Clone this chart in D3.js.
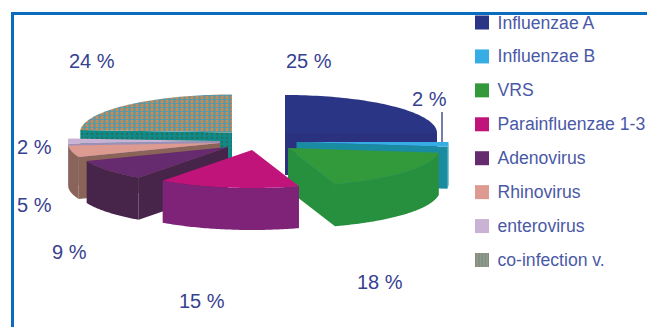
<!DOCTYPE html>
<html>
<head>
<meta charset="utf-8">
<script src="https://cdn.jsdelivr.net/npm/d3@7"></script>
<style>
  html, body { margin: 0; padding: 0; background: #fff; }
  svg { display: block; }
</style>
</head>
<body>
<script>
// Share of each virus among the positive samples, in percent.
const categories = ["Influenzae A", "Influenzae B", "VRS", "Parainfluenzae 1-3", "Adenovirus", "Rhinovirus", "enterovirus", "co-infection v."];
const shares = [25, 2, 18, 15, 9, 5, 2, 24];
const percentLabels = ["25 %", "2 %", "18 %", "15 %", "9 %", "5 %", "2 %", "24 %"];

// Colours for the visible kinds of face of each wedge.
const topColors = ["#2b3585", "#37ade6", "#339a3c", "#c0147a", "#662a6e", "#dc9a90", "#c9b2d3", "url(#coinfectionTop)"];
const wallColors = ["#2a3280", "#1a8ca2", "#26903e", "#7e2377", "#47244a", "#8a6459", "#9d8fb8", "url(#coinfectionFront)"];
const swatchColors = ["#2b3585", "#37ade6", "#339a3c", "#c0147a", "#662a6e", "#dc9a90", "#c9b2d3", "url(#coinfectionSwatch)"];

// Exploded pie: where each wedge's apex sits after being pulled out.
const apexX = [285, 296.5, 288, 252, 228, 220, 220, 232];
const apexY = [133, 142, 148, 150, 147, 143, 141, 132.5];
const radiusX = 152, radiusY = 38, depth = 42;

// Text anchor points for the percentage labels.
const labelX = [286, 412, 357, 179, 52, 17, 17, 69];
const labelY = [68, 106, 289, 308, 259, 212, 154, 68];

const width = 647, height = 327;
const svg = d3.select("body").append("svg").attr("width", width).attr("height", height);
const defs = svg.append("defs");

// Woven fills of the co-infection wedge: orange cells on blue, teal cells on the cut face.
const woven = defs.append("pattern").attr("id", "coinfectionTop")
  .attr("width", 5).attr("height", 4).attr("patternUnits", "userSpaceOnUse");
woven.append("rect").attr("width", 5).attr("height", 4).attr("fill", "#4a9bb4");
woven.append("rect").attr("x", 0.5).attr("width", 3).attr("height", 3.2).attr("fill", "#cc8a4e");
const wovenFront = defs.append("pattern").attr("id", "coinfectionFront")
  .attr("width", 5).attr("height", 4).attr("patternUnits", "userSpaceOnUse");
wovenFront.append("rect").attr("width", 5).attr("height", 4).attr("fill", "#0f8a88");
wovenFront.append("rect").attr("x", 1.2).attr("y", 1).attr("width", 1.8).attr("height", 1.8).attr("fill", "#2f6a50");
const wovenSwatch = defs.append("pattern").attr("id", "coinfectionSwatch")
  .attr("width", 3.2).attr("height", 4).attr("patternUnits", "userSpaceOnUse");
wovenSwatch.append("rect").attr("width", 3.2).attr("height", 4).attr("fill", "#82a098");
wovenSwatch.append("rect").attr("width", 1.4).attr("height", 4).attr("fill", "#8f8672");

// Pie angles run clockwise from twelve o'clock.
const wedges = d3.pie().sort(null)(shares);
const rim = (i, a) => [apexX[i] + radiusX * Math.sin(a), apexY[i] - radiusY * Math.cos(a)];
const arcPoints = (i, a0, a1) => d3.range(0, 61).map(k => rim(i, a0 + (a1 - a0) * k / 60));
const drop = p => [p[0], p[1] + depth];
const line = d3.line();

// Back-to-front painting order.
const paintOrder = [7, 0, 1, 2, 6, 5, 4, 3];
const chart = svg.append("g");

paintOrder.forEach(i => {
  const w = wedges[i];
  const apex = [apexX[i], apexY[i]];
  const g = chart.append("g");

  // Cut faces that turn toward the viewer.
  [[w.startAngle, Math.sin(w.startAngle) < 0], [w.endAngle, Math.sin(w.endAngle) > 0]].forEach(([a, visible]) => {
    if (!visible) return;
    const p = rim(i, a);
    g.append("path").attr("fill", wallColors[i])
      .attr("d", line([apex, p, drop(p), drop(apex)]) + "Z");
  });

  // Outer curved wall: only the front half of the ellipse shows.
  const a0 = Math.max(w.startAngle, Math.PI / 2);
  const a1 = Math.min(w.endAngle, Math.PI * 1.5);
  if (a1 > a0) {
    const edge = arcPoints(i, a0, a1);
    g.append("path").attr("fill", wallColors[i])
      .attr("d", line(edge.concat(edge.map(drop).reverse())) + "Z");
  }

  // Top face.
  g.append("path").attr("fill", topColors[i])
    .attr("d", line([apex].concat(arcPoints(i, w.startAngle, w.endAngle))) + "Z");
});

// Leader line for the small Influenzae B wedge.
svg.append("line").attr("x1", 442).attr("x2", 442).attr("y1", 112).attr("y2", 142)
  .attr("stroke", "#2b3585").attr("stroke-width", 1.3);

// Percentage labels.
svg.append("g").selectAll("text").data(percentLabels).join("text")
  .attr("x", (d, i) => labelX[i]).attr("y", (d, i) => labelY[i])
  .attr("font-family", "Liberation Sans, Arial, sans-serif")
  .attr("font-size", 20).attr("fill", "#36418f")
  .text(d => d);

// Legend column.
const legendY = d3.scalePoint().domain(categories).range([22.5, 260]);
const legend = svg.append("g").selectAll("g").data(categories).join("g")
  .attr("transform", d => `translate(475,${legendY(d)})`);
legend.append("rect").attr("y", -7).attr("width", 14).attr("height", 14)
  .attr("fill", (d, i) => swatchColors[i]);
legend.append("text").attr("x", 22.5).attr("y", 6)
  .attr("font-family", "Liberation Sans, Arial, sans-serif")
  .attr("font-size", 17.6).attr("fill", "#4a59a6")
  .text(d => d);

// Blue frame, open past the right and bottom edges of the page.
svg.append("path").attr("fill", "none").attr("stroke", "#0b6cbf").attr("stroke-width", 3)
  .attr("d", d3.line()([[12.5, height + 4], [12.5, 13.5], [width + 4, 13.5]]));
</script>
</body>
</html>
